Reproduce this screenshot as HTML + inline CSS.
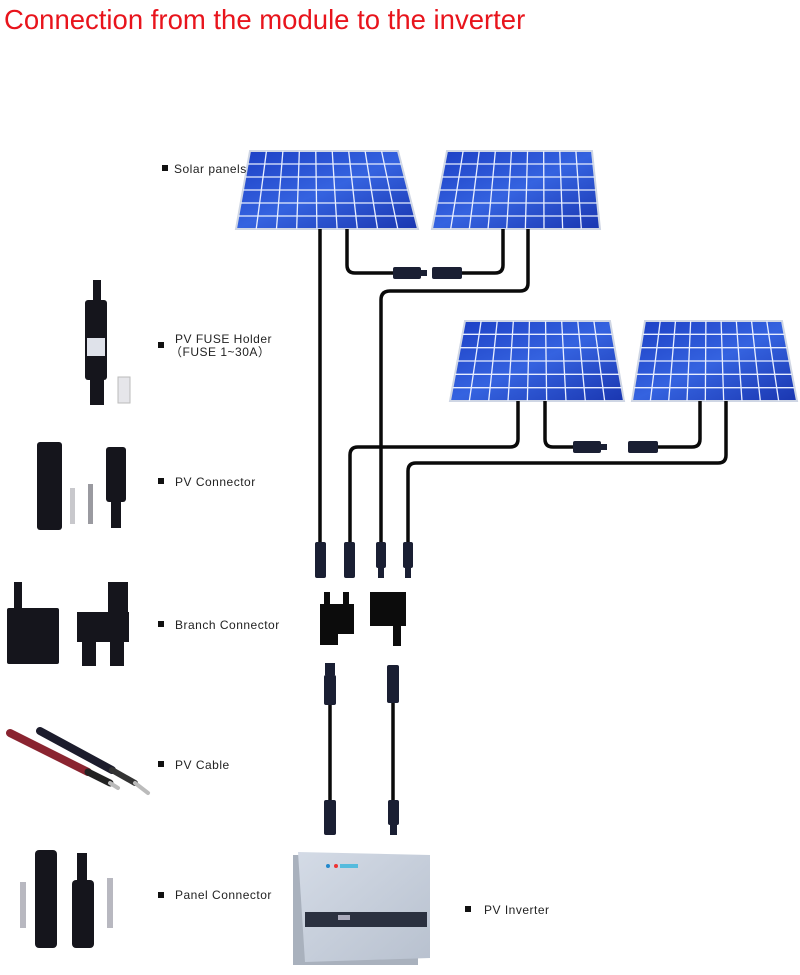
<!DOCTYPE html>
<html><head><meta charset="utf-8"><style>
html,body{margin:0;padding:0;background:#fff;width:800px;height:975px;overflow:hidden}
svg{display:block}
.t{font-family:"Liberation Sans",sans-serif;font-size:12px;fill:#222;letter-spacing:0.5px}
</style></head><body>
<svg id="s" width="800" height="975" viewBox="0 0 800 975" xmlns="http://www.w3.org/2000/svg">
<defs>
<linearGradient id="pg" x1="0" y1="0" x2="1" y2="1"><stop offset="0" stop-color="#1c3fc4"/><stop offset="0.5" stop-color="#3563e0"/><stop offset="1" stop-color="#1a36b0"/></linearGradient>
<linearGradient id="inv" x1="0" y1="0" x2="1" y2="1"><stop offset="0" stop-color="#d4dbe6"/><stop offset="1" stop-color="#b8c1cf"/></linearGradient>
</defs>
<text x="4" y="29" font-family="Liberation Sans,sans-serif" font-size="27.5" fill="#e8141c">Connection from the module to the inverter</text>
<g id="panels"></g>
<g fill="none" stroke="#0a0a0a" stroke-width="3.5" stroke-linejoin="round">
<path d="M320 229 V545"/>
<path d="M347 229 V265 q0 8 8 8 H400"/>
<path d="M460 273 H495 q8 0 8 -8 V229"/>
<path d="M528 229 V283 q0 8 -8 8 H390 q-9 0 -9 9 V545"/>
<path d="M518 401 V439 q0 8 -8 8 H358 q-8 0 -8 8 V545"/>
<path d="M545 401 V439 q0 8 8 8 H580"/>
<path d="M655 447 H692 q8 0 8 -8 V401"/>
<path d="M726 401 V455 q0 8 -8 8 H416 q-8 0 -8 8 V545"/>
<path d="M330 700 V800"/>
<path d="M393 700 V800"/>
</g>
<g fill="#1a1f33">
<rect x="393" y="267" width="28" height="12" rx="2"/><rect x="421" y="270" width="6" height="6"/>
<rect x="432" y="267" width="30" height="12" rx="2"/>
<rect x="573" y="441" width="28" height="12" rx="2"/><rect x="601" y="444" width="6" height="6"/>
<rect x="628" y="441" width="30" height="12" rx="2"/>
<rect x="315" y="542" width="11" height="36" rx="2"/>
<rect x="344" y="542" width="11" height="36" rx="2"/>
<rect x="376" y="542" width="10" height="26" rx="2"/><rect x="378" y="568" width="6" height="10"/>
<rect x="403" y="542" width="10" height="26" rx="2"/><rect x="405" y="568" width="6" height="10"/>
<rect x="325" y="663" width="10" height="12"/><rect x="324" y="675" width="12" height="30" rx="2"/>
<rect x="387" y="665" width="12" height="38" rx="2"/>
<rect x="324" y="800" width="12" height="35" rx="2"/>
<rect x="388" y="800" width="11" height="25" rx="2"/><rect x="390" y="825" width="7" height="10"/>
</g>
<g fill="#0c0c0c">
<rect x="324" y="592" width="6" height="14"/><rect x="343" y="592" width="6" height="14"/>
<rect x="320" y="604" width="34" height="30"/><rect x="320" y="632" width="18" height="13"/>
<rect x="370" y="592" width="36" height="34"/><rect x="393" y="624" width="8" height="22"/>
</g>
<rect x="293" y="855" width="125" height="110" fill="#a9b1bd"/>
<polygon points="298,852 430,855 430,958 305,962" fill="url(#inv)"/>
<rect x="305" y="912" width="122" height="15" fill="#2b3140"/>
<rect x="338" y="915" width="12" height="5" fill="#aab"/>
<circle cx="328" cy="866" r="2" fill="#28c" /><circle cx="336" cy="866" r="2" fill="#e33"/>
<rect x="340" y="864" width="18" height="4" fill="#5bd"/>
<g fill="#15151c">
<rect x="93" y="280" width="8" height="22"/><rect x="85" y="300" width="22" height="80" rx="3"/>
<rect x="90" y="375" width="14" height="30"/>
<rect x="37" y="442" width="25" height="88" rx="3"/>
<rect x="106" y="447" width="20" height="55" rx="3"/><rect x="111" y="500" width="10" height="28"/>
<rect x="14" y="582" width="8" height="30"/><rect x="7" y="608" width="52" height="56" rx="2"/>
<rect x="108" y="582" width="20" height="30"/><rect x="77" y="612" width="52" height="30"/>
<rect x="82" y="640" width="14" height="26"/><rect x="110" y="640" width="14" height="26"/>
<rect x="35" y="850" width="22" height="98" rx="4"/>
<rect x="77" y="853" width="10" height="30"/><rect x="72" y="880" width="22" height="68" rx="4"/>
</g>
<rect x="87" y="338" width="18" height="18" fill="#dfe2ea"/>
<rect x="118" y="377" width="12" height="26" fill="#e6e6ea" stroke="#bbb"/>
<rect x="70" y="488" width="5" height="36" fill="#c8c8cc"/><rect x="88" y="484" width="5" height="40" fill="#9a9aa0"/>
<rect x="20" y="882" width="6" height="46" fill="#b8b8c0"/><rect x="107" y="878" width="6" height="50" fill="#b8b8c0"/>
<g stroke-linecap="round">
<line x1="10" y1="733" x2="88" y2="772" stroke="#8a2430" stroke-width="8"/>
<line x1="88" y1="772" x2="110" y2="783" stroke="#222" stroke-width="7"/>
<line x1="110" y1="783" x2="118" y2="788" stroke="#bbb" stroke-width="4"/>
<line x1="40" y1="731" x2="112" y2="770" stroke="#1c1c2c" stroke-width="8"/>
<line x1="112" y1="770" x2="135" y2="783" stroke="#333" stroke-width="6"/>
<line x1="135" y1="783" x2="148" y2="793" stroke="#bbb" stroke-width="4"/>
</g>
<g fill="#111">
<rect x="162" y="165" width="6" height="6"/><rect x="158" y="342" width="6" height="6"/>
<rect x="158" y="478" width="6" height="6"/><rect x="158" y="621" width="6" height="6"/>
<rect x="158" y="761" width="6" height="6"/><rect x="158" y="892" width="6" height="6"/>
<rect x="465" y="906" width="6" height="6"/>
</g>
<text class="t" x="174" y="173">Solar panels</text>
<text class="t" x="175" y="343">PV  FUSE Holder</text>
<text class="t" x="170" y="356">（FUSE  1~30A）</text>
<text class="t" x="175" y="486">PV  Connector</text>
<text class="t" x="175" y="629">Branch  Connector</text>
<text class="t" x="175" y="769">PV  Cable</text>
<text class="t" x="175" y="899">Panel  Connector</text>
<text class="t" x="484" y="914">PV Inverter</text>
</svg>
<script>
var g=document.getElementById('panels'),NS='http://www.w3.org/2000/svg';
function P(tl,tr,br,bl){
 var p=document.createElementNS(NS,'polygon');
 p.setAttribute('points',[tl,tr,br,bl].map(a=>a.join(',')).join(' '));
 p.setAttribute('fill','url(#pg)');p.setAttribute('stroke','#cfd6e4');p.setAttribute('stroke-width','2');g.appendChild(p);
 function L(a,b){var l=document.createElementNS(NS,'line');l.setAttribute('x1',a[0]);l.setAttribute('y1',a[1]);l.setAttribute('x2',b[0]);l.setAttribute('y2',b[1]);l.setAttribute('stroke','#e8eeff');l.setAttribute('stroke-width','1.3');g.appendChild(l);}
 function m(a,b,t){return [a[0]+(b[0]-a[0])*t,a[1]+(b[1]-a[1])*t];}
 for(var i=1;i<9;i++){var t=i/9;L(m(tl,tr,t),m(bl,br,t));}
 for(var j=1;j<6;j++){var t=j/6;L(m(tl,bl,t),m(tr,br,t));}
}
P([250,151],[398,151],[418,229],[236,229]);
P([447,151],[592,151],[600,229],[432,229]);
P([465,321],[610,321],[624,401],[450,401]);
P([645,321],[782,321],[797,401],[632,401]);
</script>
</body></html>
